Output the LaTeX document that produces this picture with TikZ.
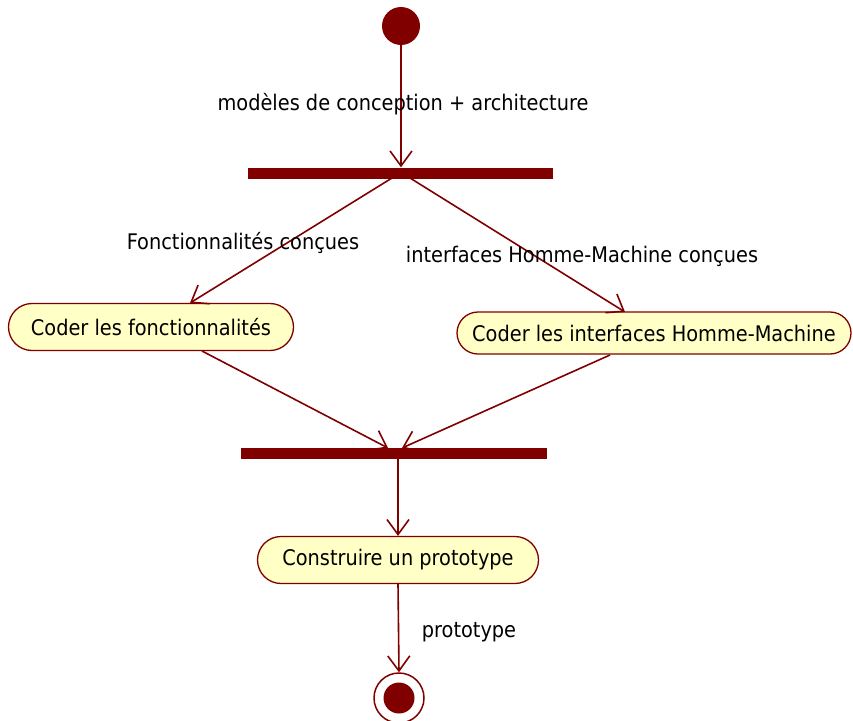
\documentclass[tikz,border=0pt]{standalone}
\usepackage{fontspec}
\setmainfont{DejaVu Sans Condensed}
\usetikzlibrary{arrows.meta,shapes.misc}
\definecolor{umlred}{HTML}{800000}
\definecolor{umlfill}{HTML}{FFFFC6}
\tikzset{
  arr/.style={draw=umlred,line width=1.6pt,-{Straight Barb[length=15pt,width=22pt,line width=1.6pt]}},
  act/.style={draw=umlred,fill=umlfill,line width=1.3pt,rounded rectangle,inner sep=0pt,font=\fontsize{21.5}{24}\selectfont},
  bar/.style={fill=umlred,draw=none,inner sep=0pt},
  lbl/.style={font=\fontsize{21.5}{24}\selectfont,inner sep=0pt}
}
\begin{document}
\begin{tikzpicture}[x=1pt,y=-1pt]
\useasboundingbox (0,0) rectangle (853,720);
\node[circle,fill=umlred,minimum size=38pt,inner sep=0pt] (start) at (401,26) {};
\node[bar,minimum width=305pt,minimum height=11pt] (fork) at (400.5,173) {};
\node[act,minimum width=285pt,minimum height=47pt] (a1) at (151,327) {Coder les fonctionnalités};
\node[act,minimum width=394pt,minimum height=42pt] (a2) at (654,333) {Coder les interfaces Homme-Machine};
\node[bar,minimum width=306pt,minimum height=11pt] (join) at (394,453) {};
\node[act,minimum width=281pt,minimum height=47pt] (a3) at (398,560) {Construire un prototype};
\node[circle,draw=umlred,line width=1.5pt,minimum size=50pt,inner sep=0pt] (end) at (399,698) {};
\node[circle,fill=umlred,minimum size=31pt,inner sep=0pt] (endin) at (end.center) {};
\coordinate (f1) at (392,178);
\coordinate (f2) at (410,178);
\coordinate (a1t) at (190,303);
\coordinate (a2t) at (625,312);
\coordinate (a1b) at (202,351);
\coordinate (a2b) at (610,355);
\coordinate (j1) at (388,448);
\coordinate (j2) at (402,448);
\draw[arr] (start.south) -- (fork.north -| start.south);
\draw[arr] (f1) -- (a1t);
\draw[arr] (f2) -- (a2t);
\draw[arr] (a1b) -- (j1);
\draw[arr] (a2b) -- (j2);
\draw[arr] (join.south -| a3.north) -- (a3.north);
\draw[arr] (a3.south) -- (end.north);
\node[lbl] (l0) at (403,104) {modèles de conception + architecture};
\node[lbl] (l1) at (243,243) {Fonctionnalités conçues};
\node[lbl] (l2) at (582,256) {interfaces Homme-Machine conçues};
\node[lbl] (l3) at (469,632) {prototype};
\end{tikzpicture}
\end{document}
